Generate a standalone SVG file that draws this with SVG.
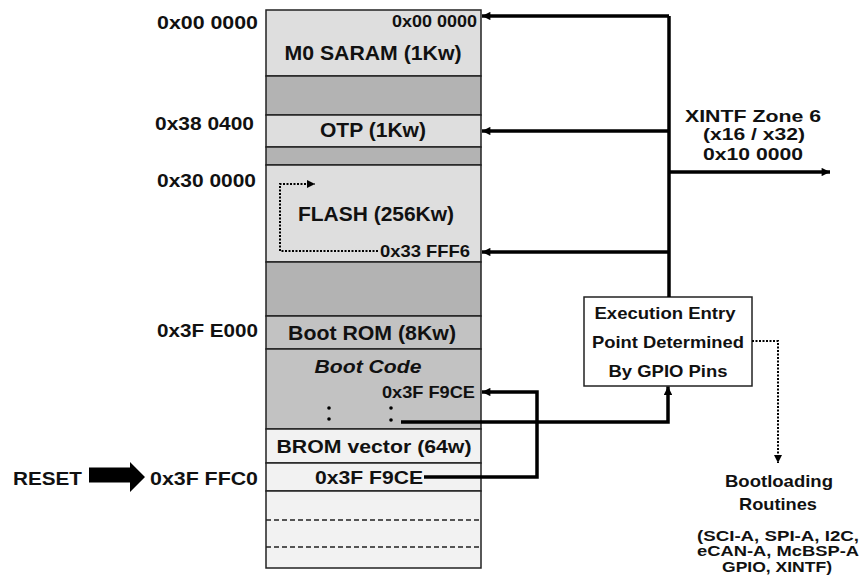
<svg xmlns="http://www.w3.org/2000/svg" width="864" height="575" viewBox="0 0 864 575">
<style>
text{font-family:"Liberation Sans",Arial,sans-serif;font-weight:bold;fill:#111}
.m{text-anchor:middle}
.e{text-anchor:end}
.cell{stroke:#222;stroke-width:1.5}
.lt{fill:#dedede}
.dk{fill:#b3b3b3}
.md{fill:#c2c2c2}
.wh{fill:#f2f2f2}
.thick{fill:none;stroke:#000;stroke-width:3.5}
.dot{fill:none;stroke:#000;stroke-width:2;stroke-dasharray:2 1.5}
</style>
<defs>
<marker id="ah" viewBox="0 0 10 10" refX="10" refY="5" markerWidth="3" markerHeight="2.4" orient="auto" markerUnits="strokeWidth"><path d="M0,0 L10,5 L0,10 z" fill="#000"/></marker>
<marker id="ahd" viewBox="0 0 10 10" refX="10" refY="5" markerWidth="4.5" markerHeight="4" orient="auto" markerUnits="strokeWidth"><path d="M0,0 L10,5 L0,10 z" fill="#000"/></marker>
</defs>

<g id="labels-left">
<text class="e" x="258" y="29" font-size="18" textLength="101" lengthAdjust="spacingAndGlyphs">0x00 0000</text>
<text class="e" x="254" y="130" font-size="18" textLength="99" lengthAdjust="spacingAndGlyphs">0x38 0400</text>
<text class="e" x="256" y="187" font-size="18" textLength="99" lengthAdjust="spacingAndGlyphs">0x30 0000</text>
<text class="e" x="258" y="337" font-size="18" textLength="101" lengthAdjust="spacingAndGlyphs">0x3F E000</text>
<text class="e" x="258" y="485" font-size="18" textLength="108" lengthAdjust="spacingAndGlyphs">0x3F FFC0</text>
</g>

<g id="reset">
<text x="13" y="485" font-size="18" textLength="69" lengthAdjust="spacingAndGlyphs">RESET</text>
<path d="M89,467.5 H130 V462 L145,477 L130,492 V482.5 H89 Z" fill="#000"/>
</g>

<g id="memory">
<rect id="m0" class="cell lt" x="266" y="10" width="215" height="66"/>
<rect class="cell dk" x="266" y="76" width="215" height="39"/>
<rect id="otp" class="cell lt" x="266" y="115" width="215" height="32"/>
<rect class="cell dk" x="266" y="147" width="215" height="18"/>
<rect id="flash" class="cell lt" x="266" y="165" width="215" height="97"/>
<rect class="cell dk" x="266" y="262" width="215" height="54"/>
<rect id="bootrom" class="cell md" x="266" y="316" width="215" height="33"/>
<rect id="bootcode" class="cell md" x="266" y="349" width="215" height="80"/>
<rect id="bromvec" class="cell wh" x="266" y="429" width="215" height="34"/>
<rect id="resetvec" class="cell wh" x="266" y="463" width="215" height="28"/>
<rect class="cell wh" x="266" y="491" width="215" height="77"/>
<line x1="266" y1="520" x2="481" y2="520" stroke="#222" stroke-width="1.5" stroke-dasharray="5 3"/>
<line x1="266" y1="547" x2="481" y2="547" stroke="#222" stroke-width="1.5" stroke-dasharray="5 3"/>

<text class="e" x="477" y="27" font-size="17" textLength="85" lengthAdjust="spacingAndGlyphs">0x00 0000</text>
<text class="m" x="373" y="60" font-size="21" textLength="177" lengthAdjust="spacingAndGlyphs">M0 SARAM (1Kw)</text>
<text class="m" x="373" y="137" font-size="20" textLength="106" lengthAdjust="spacingAndGlyphs">OTP (1Kw)</text>
<text class="m" x="376" y="221" font-size="21" textLength="156" lengthAdjust="spacingAndGlyphs">FLASH (256Kw)</text>
<text class="e" x="470" y="257" font-size="17" textLength="90" lengthAdjust="spacingAndGlyphs">0x33 FFF6</text>
<text class="m" x="372" y="340" font-size="20" textLength="168" lengthAdjust="spacingAndGlyphs">Boot ROM (8Kw)</text>
<text class="m" x="368" y="373" font-size="19" font-style="italic" textLength="107" lengthAdjust="spacingAndGlyphs">Boot Code</text>
<text class="e" x="475" y="398" font-size="17" textLength="93" lengthAdjust="spacingAndGlyphs">0x3F F9CE</text>
<circle cx="329" cy="408" r="1.8"/><circle cx="329" cy="419" r="1.8"/>
<circle cx="391" cy="408" r="1.8"/><circle cx="391" cy="420" r="1.8"/>
<text class="m" x="374" y="453" font-size="19" textLength="195" lengthAdjust="spacingAndGlyphs">BROM vector (64w)</text>
<text class="m" x="369" y="484" font-size="19" textLength="108" lengthAdjust="spacingAndGlyphs">0x3F F9CE</text>
</g>

<g id="entry-box">
<rect x="584" y="297" width="168" height="89" fill="#fff" stroke="#222" stroke-width="1.5"/>
<text class="m" x="665" y="319" font-size="17" textLength="141" lengthAdjust="spacingAndGlyphs">Execution Entry</text>
<text class="m" x="668" y="348" font-size="17" textLength="152" lengthAdjust="spacingAndGlyphs">Point Determined</text>
<text class="m" x="668" y="377" font-size="17" textLength="119" lengthAdjust="spacingAndGlyphs">By GPIO Pins</text>
</g>

<g id="xintf">
<text class="m" x="753" y="122" font-size="17" textLength="136" lengthAdjust="spacingAndGlyphs">XINTF Zone 6</text>
<text class="m" x="754" y="140" font-size="17" textLength="102" lengthAdjust="spacingAndGlyphs">(x16 / x32)</text>
<text class="m" x="753" y="160" font-size="17" textLength="100" lengthAdjust="spacingAndGlyphs">0x10 0000</text>
</g>

<g id="bootloading">
<text class="m" x="779" y="487" font-size="17" textLength="108" lengthAdjust="spacingAndGlyphs">Bootloading</text>
<text class="m" x="778" y="510" font-size="17" textLength="78" lengthAdjust="spacingAndGlyphs">Routines</text>
<text class="m" x="778" y="541" font-size="14" textLength="162" lengthAdjust="spacingAndGlyphs">(SCI-A, SPI-A, I2C,</text>
<text class="m" x="778" y="556" font-size="14" textLength="162" lengthAdjust="spacingAndGlyphs">eCAN-A, McBSP-A</text>
<text class="m" x="777" y="572" font-size="14" textLength="110" lengthAdjust="spacingAndGlyphs">GPIO, XINTF)</text>
</g>

<g id="connectors">
<path class="thick" d="M669,16 V297"/>
<path class="thick" d="M669,16 H482" marker-end="url(#ah)"/>
<path class="thick" d="M669,131 H482" marker-end="url(#ah)"/>
<path class="thick" d="M669,252 H482" marker-end="url(#ah)"/>
<path class="thick" d="M669,172 H830" marker-end="url(#ah)"/>
<path class="thick" d="M401,422 H668 V386.5" marker-end="url(#ah)"/>
<path class="thick" d="M424,477 H537 V392 H482" marker-end="url(#ah)"/>
<path class="dot" d="M378,251 H280 V184 H315" marker-end="url(#ahd)"/>
<path class="dot" d="M752,341 H778 V463" marker-end="url(#ahd)"/>
</g>
</svg>
